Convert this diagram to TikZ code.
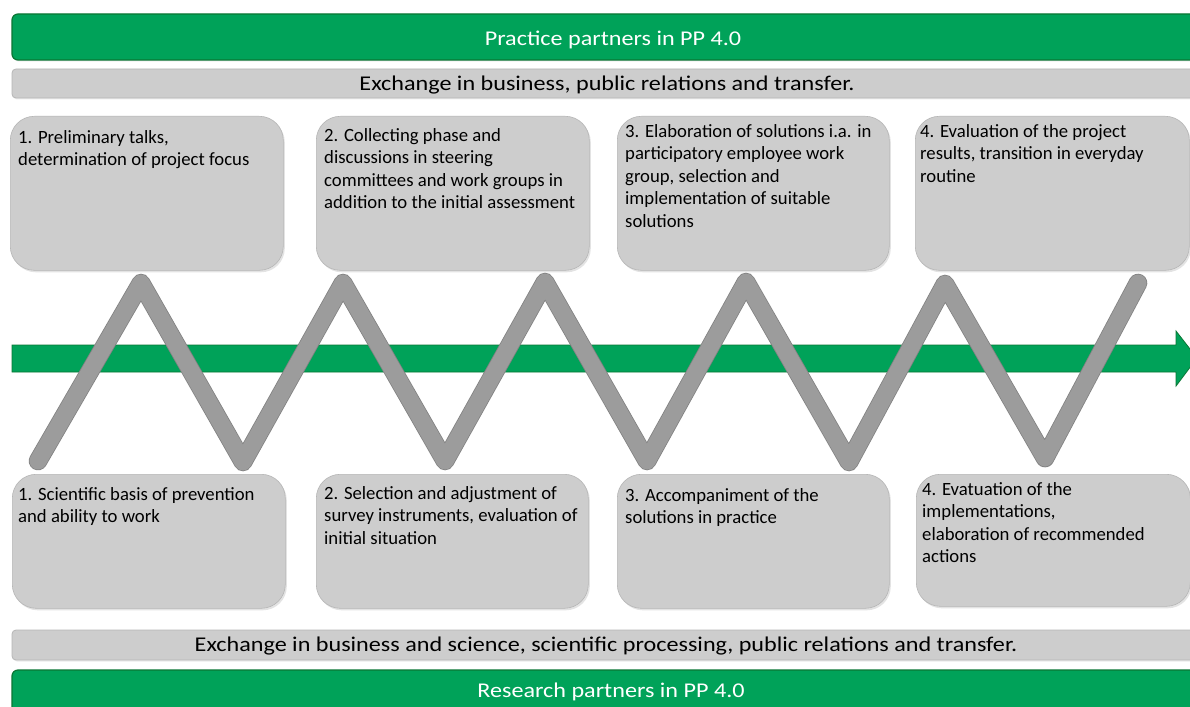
\documentclass[tikz,border=0pt]{standalone}
\usepackage{fontspec}
\usepackage{graphicx}
\setmainfont{Carlito}
\usetikzlibrary{shadows}
\definecolor{pgreen}{RGB}{0,162,89}
\definecolor{pgreenD}{RGB}{10,118,52}
\definecolor{bgrey}{RGB}{205,205,205}
\definecolor{bgreyD}{RGB}{182,182,182}
\definecolor{zgrey}{RGB}{156,156,156}
\definecolor{zgreyD}{RGB}{130,130,130}
\newcommand{\widetxt}[1]{\scalebox{1.15}[1]{#1}}
\begin{document}
\begin{tikzpicture}[x=1pt,y=-1pt,
  stagebox/.style={rectangle, rounded corners=24pt, fill=bgrey, draw=bgreyD, line width=0.6pt,
    anchor=north west, inner sep=0pt,
    drop shadow={opacity=0.22, shadow xshift=1.5pt, shadow yshift=-2pt}},
  boxtext/.style={anchor=north west, align=left, inner sep=0pt,
    font=\fontsize{18.7}{22.5}\selectfont, text=black},
  greenbar/.style={fill=pgreen, draw=pgreenD, line width=1.2pt, rounded corners=6pt,
    drop shadow={opacity=0.2, shadow xshift=1pt, shadow yshift=-1.5pt}},
  greybar/.style={fill=bgrey, draw=bgreyD, line width=0.8pt, rounded corners=4pt,
    drop shadow={opacity=0.15, shadow xshift=1pt, shadow yshift=-1.5pt}},
  bartext/.style={inner sep=0pt, font=\fontsize{21}{25}\selectfont},
  zigline/.style={line width=17pt, line cap=round, line join=round, draw=zgrey},
  zigedge/.style={line width=18.6pt, line cap=round, line join=round, draw=zgreyD}
]
\clip (0,0) rectangle (1190,706);
\fill[white] (0,0) rectangle (1190,706);

% top bars
\draw[greenbar] (12,14) rectangle (1210,60);
\node[bartext, text=white] (practice) at (613,39.5) {\widetxt{Practice partners in PP 4.0}};
\draw[greybar] (12,69) rectangle (1210,98);
\node[bartext] (exchtop) at (607,85.5) {\widetxt{Exchange in business, public relations and transfer.}};

% bottom bars
\draw[greybar] (12,630) rectangle (1210,660);
\node[bartext] (exchbot) at (606,646.5) {\widetxt{Exchange in business and science, scientific processing, public relations and transfer.}};
\draw[greenbar] (12,670) rectangle (1210,720);
\node[bartext, text=white] (research) at (611,691.5) {\widetxt{Research partners in PP 4.0}};

% top boxes
\node[stagebox, minimum width=273pt, minimum height=154pt] (p1) at (10,116) {};
\node[stagebox, minimum width=273pt, minimum height=154pt] (p2) at (316,116) {};
\node[stagebox, minimum width=272pt, minimum height=154pt] (p3) at (617,116) {};
\node[stagebox, minimum width=274pt, minimum height=154pt] (p4) at (915,116) {};

\node[boxtext] (tp1) at (18,130) {1. Preliminary talks,\\determination of project focus};
\node[boxtext] (tp2) at (324,128) {2. Collecting phase and\\discussions in steering\\committees and work groups in\\addition to the initial assessment};
\node[boxtext] (tp3) at (625,124) {3. Elaboration of solutions i.a. in\\participatory employee work\\group, selection and\\implementation of suitable\\solutions};
\node[boxtext] (tp4) at (920,124) {4. Evaluation of the project\\results, transition in everyday\\routine};

% bottom boxes
\node[stagebox, minimum width=273pt, minimum height=134pt] (r1) at (12,474) {};
\node[stagebox, minimum width=272pt, minimum height=134pt] (r2) at (316,474) {};
\node[stagebox, minimum width=272pt, minimum height=134pt] (r3) at (617,474) {};
\node[stagebox, minimum width=274pt, minimum height=132pt] (r4) at (916,474) {};

\node[boxtext] (tr1) at (18,487) {1. Scientific basis of prevention\\and ability to work};
\node[boxtext] (tr2) at (324,486) {2. Selection and adjustment of\\survey instruments, evaluation of\\initial situation};
\node[boxtext] (tr3) at (625,488) {3. Accompaniment of the\\solutions in practice};
\node[boxtext] (tr4) at (922,482) {4. Evatuation of the\\implementations,\\elaboration of recommended\\actions};

% green time arrow
\draw[fill=pgreen, draw=pgreenD, line width=0.8pt]
  (12,345) -- (1176,345) -- (1176,331) -- (1197,358) -- (1176,386) -- (1176,372) -- (12,372) -- cycle;

% zigzag
\coordinate (z0) at (38,461);
\coordinate (z1) at (141,283);
\coordinate (z2) at (243,462);
\coordinate (z3) at (343,283);
\coordinate (z4) at (445,461);
\coordinate (z5) at (545,282);
\coordinate (z6) at (647,461);
\coordinate (z7) at (746,282);
\coordinate (z8) at (849,462);
\coordinate (z9) at (945,284);
\coordinate (z10) at (1045,458);
\coordinate (z11) at (1138,283);
\draw[zigedge] (z0) -- (z1) -- (z2) -- (z3) -- (z4) -- (z5) -- (z6) -- (z7) -- (z8) -- (z9) -- (z10) -- (z11);
\draw[zigline] (z0) -- (z1) -- (z2) -- (z3) -- (z4) -- (z5) -- (z6) -- (z7) -- (z8) -- (z9) -- (z10) -- (z11);
\end{tikzpicture}
\end{document}
